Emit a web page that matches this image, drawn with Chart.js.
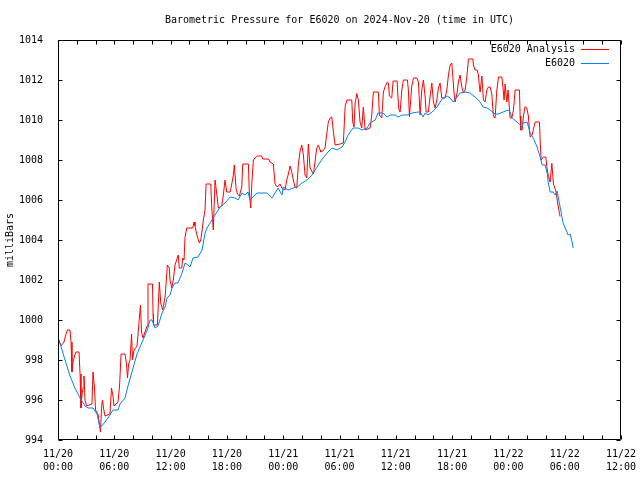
<!DOCTYPE html>
<html>
<head>
<meta charset="utf-8">
<script src="https://cdn.jsdelivr.net/npm/chart.js@4.4.1/dist/chart.umd.min.js"></script>
<style>
  html, body { margin: 0; padding: 0; background: #fff; }
  #wrap { width: 640px; height: 480px; }
</style>
</head>
<body>
<div id="wrap"><canvas id="pressureChart" width="640" height="480"></canvas></div>
<script>
// hours since 2024-11-20 00:00 UTC
const analysisHours = [
  0.00, 0.32, 0.64, 0.85, 1.01, 1.28, 1.39, 1.49, 1.60, 1.76, 1.92, 2.24, 2.35, 2.45, 2.56, 2.67,
  2.77, 2.88, 3.04, 3.62, 3.73, 3.89, 4.00, 4.26, 4.42, 4.53, 4.64, 4.74, 4.85, 5.01, 5.54, 5.70,
  5.86, 5.97, 6.40, 6.56, 6.72, 7.14, 7.30, 7.41, 7.52, 7.68, 7.84, 7.94, 8.10, 8.42, 8.69, 8.79,
  8.90, 9.06, 9.27, 9.49, 9.59, 10.07, 10.13, 10.18, 10.59, 10.80, 10.95, 11.16, 11.41, 11.59, 11.65, 11.86,
  11.94, 12.12, 12.29, 12.47, 12.82, 12.93, 13.19, 13.29, 13.43, 13.54, 13.72, 14.36, 14.50, 14.60, 14.85, 15.06,
  15.21, 15.32, 15.49, 15.67, 15.78, 16.28, 16.38, 16.55, 16.74, 16.92, 17.09, 17.45, 17.62, 17.80, 17.98, 18.34,
  18.52, 18.69, 18.79, 18.97, 19.11, 19.33, 19.58, 19.69, 20.29, 20.39, 20.54, 20.65, 20.82, 21.00, 21.25, 21.71,
  21.82, 22.42, 22.60, 22.95, 23.13, 23.38, 23.67, 23.85, 24.20, 24.38, 24.55, 24.73, 24.91, 25.08, 25.26, 25.45,
  25.62, 25.80, 25.98, 26.15, 26.33, 26.51, 26.68, 26.86, 27.22, 27.58, 27.75, 27.93, 28.00, 28.22, 28.46, 28.64,
  28.81, 29.00, 29.18, 29.35, 29.53, 30.06, 30.41, 30.60, 30.78, 31.31, 31.41, 31.55, 31.66, 31.84, 32.01, 32.19,
  32.37, 32.54, 32.73, 33.26, 33.44, 33.61, 34.14, 34.25, 34.51, 34.68, 34.86, 35.10, 35.21, 35.32, 35.57, 35.71,
  36.14, 36.30, 36.46, 36.64, 36.81, 37.24, 37.34, 37.45, 37.70, 37.88, 38.24, 38.41, 38.59, 38.77, 38.94, 39.12,
  39.23, 39.47, 39.66, 39.84, 40.01, 40.19, 40.37, 40.54, 40.72, 40.90, 41.25, 41.44, 41.61, 41.79, 41.97, 42.08,
  42.21, 42.32, 42.53, 42.67, 42.85, 43.03, 43.21, 43.39, 43.57, 43.74, 44.21, 44.27, 44.45, 44.67, 44.81, 44.91,
  44.99, 45.17, 45.34, 45.52, 45.70, 45.87, 46.05, 46.23, 46.40, 46.58, 46.77, 46.94, 47.30, 47.41, 47.54, 47.65,
  47.83, 47.97, 48.18, 48.36, 48.54, 48.72, 49.18, 49.25, 49.32, 49.46, 49.60, 49.78, 49.96, 50.13, 50.24, 50.32,
  50.53, 50.85, 51.31, 51.38, 51.49, 51.73, 51.99, 52.09, 52.27, 52.45, 52.63, 52.80, 53.09, 53.23, 53.44, 53.51
];
const analysisMb = [
  999.1, 998.7, 998.9, 999.3, 999.5, 999.5, 998.9, 997.4, 997.9, 998.2, 998.4, 998.4, 997.3, 995.6, 996.3, 996.6,
  997.2, 996.0, 995.7, 995.8, 997.4, 996.6, 995.5, 995.3, 994.8, 994.4, 995.6, 996.0, 995.6, 995.2, 995.3, 996.6,
  996.2, 995.7, 995.9, 996.7, 998.3, 998.3, 997.8, 997.1, 997.8, 998.0, 999.3, 998.0, 998.5, 998.7, 1000.2, 1000.75,
  999.4, 999.1, 999.4, 999.7, 1001.8, 1001.8, 1000.3, 999.75, 999.75, 1001.9, 1000.85, 1000.5, 1001.15, 1002.3, 1002.75, 1002.6,
  1002.0, 1001.6, 1002.0, 1002.75, 1003.25, 1002.6, 1002.6, 1003.1, 1003.0, 1004.15, 1004.6, 1004.6, 1004.9, 1004.7, 1004.15, 1003.85,
  1004.0, 1004.35, 1005.0, 1005.5, 1006.8, 1006.8, 1005.65, 1004.5, 1007.0, 1006.3, 1005.6, 1005.7, 1006.25, 1007.0, 1006.4, 1006.4,
  1006.8, 1007.25, 1007.75, 1006.6, 1006.3, 1006.2, 1006.65, 1007.8, 1007.8, 1006.4, 1005.6, 1006.8, 1008.0, 1008.1, 1008.2, 1008.2,
  1008.05, 1008.05, 1007.9, 1007.8, 1006.8, 1006.65, 1006.8, 1006.6, 1006.5, 1007.0, 1007.3, 1007.7, 1007.4, 1007.0, 1006.65, 1006.6,
  1007.8, 1008.45, 1008.75, 1008.25, 1007.25, 1007.1, 1008.8, 1007.6, 1007.3, 1008.6, 1008.75, 1008.5, 1008.4, 1008.45, 1008.6, 1009.3,
  1009.9, 1010.1, 1010.15, 1009.4, 1008.75, 1008.8, 1008.85, 1010.67, 1011.0, 1011.0, 1009.9, 1009.65, 1010.8, 1011.33, 1011.0, 1009.9,
  1009.6, 1010.65, 1009.5, 1009.6, 1010.25, 1011.4, 1011.4, 1010.25, 1010.1, 1011.4, 1011.67, 1011.9, 1011.85, 1011.2, 1011.1, 1011.95,
  1011.95, 1010.6, 1010.4, 1011.5, 1012.0, 1012.0, 1011.5, 1010.15, 1011.7, 1012.1, 1012.1, 1011.9, 1010.25, 1011.5, 1012.0, 1011.2,
  1010.4, 1010.4, 1011.2, 1011.85, 1010.9, 1010.6, 1011.0, 1011.6, 1011.85, 1011.1, 1011.1, 1011.5, 1012.25, 1012.75, 1012.85, 1012.15,
  1011.35, 1010.9, 1011.35, 1011.9, 1012.25, 1011.67, 1011.35, 1011.5, 1012.15, 1013.05, 1013.05, 1012.75, 1012.5, 1012.5, 1012.25, 1011.67,
  1011.4, 1012.2, 1011.0, 1010.9, 1011.5, 1011.65, 1011.65, 1011.3, 1010.2, 1010.1, 1011.5, 1012.15, 1012.15, 1011.7, 1011.0, 1011.8,
  1010.9, 1011.5, 1010.1, 1010.1, 1010.5, 1011.5, 1011.5, 1010.2, 1009.5, 1009.5, 1010.2, 1010.67, 1010.6, 1010.2, 1009.5, 1009.15,
  1009.25, 1009.9, 1009.9, 1009.0, 1008.0, 1008.15, 1008.15, 1007.67, 1007.17, 1006.9, 1007.83, 1006.8, 1006.4, 1005.9, 1005.33, 1005.17
];

const stationHours = [
  0.00, 0.11, 0.75, 1.28, 1.81, 2.35, 2.88, 3.20, 3.73, 4.16, 4.48, 5.01, 5.54, 5.86, 6.40, 6.61,
  7.14, 7.46, 8.00, 8.42, 9.06, 9.59, 9.81, 10.02, 10.34, 10.66, 11.09, 11.41, 11.62, 11.94, 12.15, 12.47,
  12.79, 13.22, 13.54, 13.86, 14.07, 14.39, 14.92, 15.35, 15.67, 15.88, 16.20, 16.74, 17.27, 17.80, 18.34, 18.87,
  19.19, 19.61, 19.93, 20.25, 20.47, 20.79, 21.21, 21.75, 22.28, 22.81, 23.13, 23.45, 23.88, 23.99, 24.52, 25.05,
  25.48, 26.01, 26.54, 27.08, 27.61, 27.93, 28.25, 28.78, 29.21, 29.74, 30.27, 30.59, 30.91, 31.45, 31.98, 32.41,
  32.94, 33.26, 33.79, 34.11, 34.65, 35.07, 35.39, 35.92, 36.24, 36.67, 37.20, 37.74, 38.38, 38.59, 38.91, 39.12,
  39.44, 39.87, 40.40, 40.72, 41.04, 41.47, 41.79, 42.11, 42.53, 42.85, 43.39, 43.92, 44.45, 44.99, 45.31, 45.73,
  46.05, 46.58, 46.90, 47.44, 47.97, 48.18, 48.40, 48.93, 49.46, 49.57, 50.00, 50.32, 50.64, 51.06, 51.38, 51.60,
  51.92, 52.13, 52.24, 52.45, 52.77, 52.98, 53.19, 53.51, 53.83, 54.05, 54.37, 54.58, 54.79, 54.90
];
const stationMb = [
  999.1, 999.0, 998.0, 997.2, 996.6, 996.1, 995.7, 995.6, 995.6, 995.3, 994.6, 994.9, 995.25, 995.5, 995.5, 995.8,
  996.1, 996.7, 997.6, 998.3, 999.0, 999.6, 1000.0, 1000.0, 999.6, 999.7, 1000.35, 1000.65, 1001.1, 1001.25, 1001.6, 1001.85,
  1001.85, 1002.35, 1002.85, 1002.75, 1002.65, 1003.1, 1003.15, 1003.5, 1004.35, 1004.6, 1004.85, 1005.25, 1005.65, 1005.85, 1006.15, 1006.1,
  1006.0, 1006.35, 1006.25, 1006.4, 1006.0, 1006.15, 1006.35, 1006.35, 1006.35, 1006.1, 1006.35, 1006.6, 1006.25, 1006.65, 1006.5, 1006.6,
  1006.65, 1006.85, 1007.0, 1007.25, 1007.65, 1007.9, 1008.1, 1008.4, 1008.6, 1008.5, 1008.65, 1008.9, 1009.25, 1009.6, 1009.6, 1009.5,
  1009.6, 1009.85, 1010.0, 1010.35, 1010.35, 1010.15, 1010.25, 1010.25, 1010.15, 1010.25, 1010.25, 1010.35, 1010.4, 1010.4, 1010.15, 1010.35,
  1010.25, 1010.4, 1010.65, 1010.9, 1011.1, 1011.2, 1011.1, 1010.9, 1011.15, 1011.35, 1011.4, 1011.35, 1011.15, 1010.9, 1010.65, 1010.6,
  1010.5, 1010.3, 1010.3, 1010.4, 1010.5, 1010.4, 1010.1, 1009.9, 1009.65, 1009.85, 1009.9, 1009.35, 1009.1, 1008.65, 1008.15, 1007.75,
  1007.75, 1007.35, 1006.9, 1006.4, 1006.4, 1006.25, 1006.45, 1005.65, 1004.85, 1004.6, 1004.25, 1004.3, 1003.9, 1003.6
];

const xTickLabels = [
  ['11/20', '00:00'], ['11/20', '06:00'], ['11/20', '12:00'], ['11/20', '18:00'],
  ['11/21', '00:00'], ['11/21', '06:00'], ['11/21', '12:00'], ['11/21', '18:00'],
  ['11/22', '00:00'], ['11/22', '06:00'], ['11/22', '12:00']
];
const seriesNames = ['E6020 Analysis', 'E6020'];
const seriesColors = ['#ff0000', '#0080ff'];

const FONT = '"DejaVu Sans Mono", "Liberation Mono", monospace';

const toPoints = (xs, ys) => xs.map((h, i) => ({ x: h, y: ys[i] }));

// gnuplot style frame with inward ticks on all four sides, plus key
const gnuplotFrame = {
  id: 'gnuplotFrame',
  afterDatasetsDraw(chart) {
    const { ctx, chartArea: a, scales: { x, y } } = chart;
    const tick = 4;
    ctx.save();
    ctx.strokeStyle = '#000';
    ctx.lineWidth = 1;
    ctx.beginPath();
    const L = Math.round(a.left) + 0.5, R = Math.round(a.right) - 0.5;
    const T = Math.round(a.top) + 0.5, B = Math.round(a.bottom) - 0.5;
    ctx.rect(L, T, R - L, B - T);
    x.ticks.forEach(t => {
      const px = Math.round(x.getPixelForValue(t.value)) + 0.5;
      ctx.moveTo(px, B); ctx.lineTo(px, B - tick);
      ctx.moveTo(px, T); ctx.lineTo(px, T + tick);
    });
    y.ticks.forEach(t => {
      const py = Math.round(y.getPixelForValue(t.value)) + 0.5;
      ctx.moveTo(L, py); ctx.lineTo(L + tick, py);
      ctx.moveTo(R, py); ctx.lineTo(R - tick, py);
    });
    ctx.stroke();

    // key, top right inside the plot
    ctx.font = '10px ' + FONT;
    ctx.textAlign = 'right';
    ctx.textBaseline = 'middle';
    seriesNames.forEach((name, i) => {
      const ky = Math.round(a.top) + 9 + i * 14;
      ctx.fillStyle = '#000';
      ctx.fillText(name, a.right - 46, ky);
      ctx.strokeStyle = seriesColors[i];
      ctx.beginPath();
      ctx.moveTo(a.right - 40, ky + 0.5);
      ctx.lineTo(a.right - 12, ky + 0.5);
      ctx.stroke();
    });
    ctx.restore();
  }
};

new Chart(document.getElementById('pressureChart'), {
  type: 'line',
  data: {
    datasets: [
      {
        label: seriesNames[0],
        data: toPoints(analysisHours, analysisMb),
        borderColor: seriesColors[0],
        borderWidth: 1,
        pointRadius: 0,
        tension: 0,
        order: 2
      },
      {
        label: seriesNames[1],
        data: toPoints(stationHours, stationMb),
        borderColor: seriesColors[1],
        borderWidth: 1,
        pointRadius: 0,
        tension: 0,
        order: 1
      }
    ]
  },
  options: {
    responsive: false,
    animation: false,
    devicePixelRatio: 1,
    layout: { padding: { left: 0, right: 19, top: 0, bottom: 0 } },
    plugins: {
      legend: { display: false },
      tooltip: { enabled: false },
      title: {
        display: true,
        fullSize: false,
        text: 'Barometric Pressure for E6020 on 2024-Nov-20 (time in UTC)',
        color: '#000',
        font: { family: FONT, size: 10, weight: 'normal', lineHeight: 1.2 },
        padding: { top: 14, bottom: 14 }
      }
    },
    scales: {
      x: {
        type: 'linear',
        min: 0,
        max: 60,
        afterFit: s => { s.height = 40; },
        border: { display: false },
        grid: { display: false },
        ticks: {
          stepSize: 2,
          autoSkip: false,
          maxRotation: 0,
          padding: 0,
          color: '#000',
          font: { family: FONT, size: 10, lineHeight: 1.3 },
          callback: v => (v % 6 === 0 ? xTickLabels[v / 6] : '')
        }
      },
      y: {
        min: 994,
        max: 1014,
        afterFit: s => { s.width = 58; },
        border: { display: false },
        grid: { display: false },
        ticks: {
          stepSize: 2,
          padding: 7,
          color: '#000',
          font: { family: FONT, size: 10 },
          callback: v => String(v)
        },
        title: {
          display: true,
          text: 'milliBars',
          color: '#000',
          font: { family: FONT, size: 10 },
          padding: { top: 4, bottom: 0 }
        }
      }
    }
  },
  plugins: [gnuplotFrame]
});
</script>
</body>
</html>
